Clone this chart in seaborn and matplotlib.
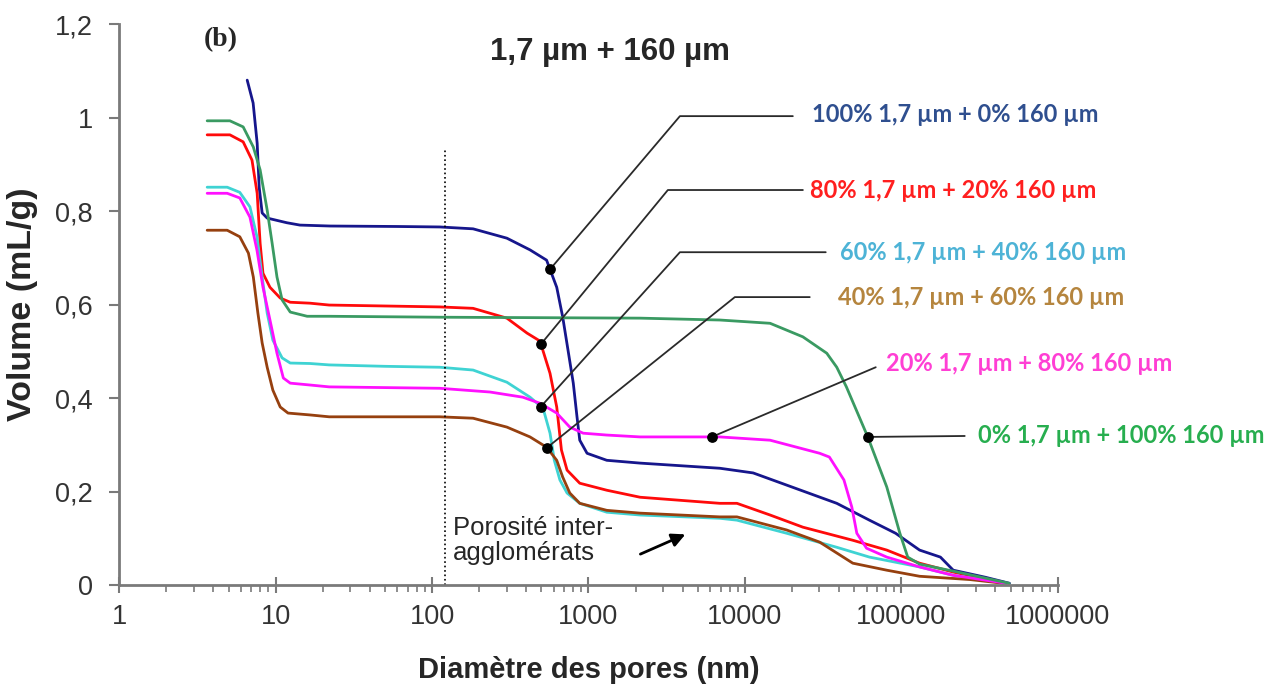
import numpy as np
import pandas as pd
import matplotlib
matplotlib.use("Agg")
import matplotlib.pyplot as plt
import seaborn as sns
from matplotlib.ticker import FixedLocator, LogLocator, NullFormatter, FuncFormatter

# ---- data (pore diameter nm -> cumulative volume mL/g) ----
mixes = ["100% 1,7 µm + 0% 160 µm", "80% 1,7 µm + 20% 160 µm",
         "60% 1,7 µm + 40% 160 µm", "40% 1,7 µm + 60% 160 µm",
         "20% 1,7 µm + 80% 160 µm", "0% 1,7 µm + 100% 160 µm"]

d_100 = [6.58, 7.18, 7.62, 7.85, 8.2, 8.83, 11.8, 14.3, 22.3, 60, 112, 183, 301, 423, 540,
         627, 685, 740, 800, 845, 880, 980, 1310, 2140, 6920, 11300, 18500, 38700, 62600,
         92000, 131000, 178000, 215000, 344000, 492000]
v_100 = [1.08, 1.031, 0.945, 0.851, 0.796, 0.785, 0.775, 0.77, 0.768, 0.767, 0.766, 0.762,
         0.742, 0.717, 0.695, 0.637, 0.573, 0.503, 0.432, 0.36, 0.31, 0.282, 0.267, 0.261,
         0.25, 0.24, 0.214, 0.175, 0.139, 0.111, 0.075, 0.06, 0.032, 0.017, 0.004]

d_80 = [3.65, 5.1, 6.2, 7.06, 7.62, 7.96, 8.3, 9.2, 10.7, 12.4, 16.6, 22, 50, 112, 183, 301,
        405, 490, 568, 627, 672, 730, 880, 1310, 2140, 6920, 8900, 14500, 23500, 49000,
        80800, 131000, 215000, 470000]
v_80 = [0.963, 0.963, 0.948, 0.909, 0.838, 0.731, 0.667, 0.637, 0.614, 0.605, 0.603, 0.599,
        0.597, 0.595, 0.592, 0.571, 0.539, 0.522, 0.453, 0.381, 0.289, 0.246, 0.218, 0.203,
        0.188, 0.175, 0.175, 0.15, 0.124, 0.096, 0.075, 0.047, 0.028, 0.004]

d_60 = [3.65, 4.9, 5.9, 6.85, 7.6, 8.2, 8.83, 9.6, 11, 12.4, 16.6, 22, 50, 112, 183, 301,
        423, 513, 568, 605, 657, 730, 880, 1310, 2140, 6920, 8900, 18500, 38700, 62600,
        131000, 215000, 470000]
v_60 = [0.851, 0.851, 0.84, 0.809, 0.745, 0.659, 0.582, 0.524, 0.486, 0.475, 0.474, 0.471,
        0.468, 0.466, 0.46, 0.434, 0.402, 0.378, 0.325, 0.267, 0.225, 0.197, 0.175, 0.156,
        0.15, 0.143, 0.139, 0.111, 0.081, 0.06, 0.039, 0.021, 0.004]

d_40 = [3.65, 4.9, 5.9, 6.7, 7.2, 7.7, 8.2, 8.83, 9.6, 10.7, 12, 16.6, 22, 112, 183, 301,
        423, 540, 627, 685, 760, 880, 1310, 2140, 6920, 8900, 18500, 30100, 49000, 80800,
        131000, 274000, 450000]
v_40 = [0.759, 0.759, 0.745, 0.71, 0.659, 0.582, 0.518, 0.466, 0.417, 0.381, 0.368, 0.364,
        0.36, 0.36, 0.357, 0.338, 0.317, 0.295, 0.267, 0.231, 0.197, 0.175, 0.16, 0.154,
        0.146, 0.146, 0.118, 0.092, 0.047, 0.032, 0.019, 0.012, 0.004]

d_20 = [3.65, 4.9, 5.9, 6.85, 7.6, 8.3, 9.2, 10.2, 11.2, 12.4, 16.6, 22, 112, 235, 380, 490,
        627, 760, 925, 1310, 2140, 6920, 14500, 30100, 34700, 43000, 48300, 52000, 60000,
        80800, 131000, 215000, 470000]
v_20 = [0.838, 0.838, 0.828, 0.787, 0.716, 0.637, 0.567, 0.496, 0.443, 0.432, 0.428, 0.424,
        0.421, 0.413, 0.402, 0.389, 0.368, 0.338, 0.325, 0.321, 0.317, 0.317, 0.31, 0.282,
        0.274, 0.225, 0.167, 0.111, 0.079, 0.06, 0.039, 0.021, 0.004]

d_0 = [3.65, 5.1, 6.2, 7.2, 7.96, 8.83, 9.5, 10.2, 11, 12.4, 15.9, 22, 112, 2140, 6920,
       14500, 23500, 33400, 38700, 44600, 61100, 80800, 98000, 110000, 131000, 215000, 490000]
v_0 = [0.993, 0.993, 0.98, 0.937, 0.888, 0.802, 0.731, 0.659, 0.61, 0.584, 0.575, 0.575,
       0.573, 0.571, 0.567, 0.56, 0.531, 0.496, 0.466, 0.424, 0.317, 0.21, 0.111, 0.06,
       0.045, 0.03, 0.004]

diams = [d_100, d_80, d_60, d_40, d_20, d_0]
vols = [v_100, v_80, v_60, v_40, v_20, v_0]

line_colors = ["#16168c", "#ff0a0a", "#3fd3d3", "#96400f", "#ff10ff", "#3a9a62"]
text_colors = ["#2f4f8f", "#ff1f1f", "#4db3d6", "#b5853e", "#ff3fd4", "#27ae4f"]

x_ticks = [1, 10, 100, 1000, 10000, 100000, 1000000]
y_ticks = [0, 0.2, 0.4, 0.6, 0.8, 1.0, 1.2]

# ---- long table for seaborn ----
frames = []
for name, d, v in zip(mixes, diams, vols):
    frames.append(pd.DataFrame({"diam": d, "vol": v, "mix": name}))
df = pd.concat(frames, ignore_index=True)

sns.set_theme(style="ticks")
plt.rcParams['font.family'] = ['Liberation Sans', 'DejaVu Sans']

fig, ax = plt.subplots(figsize=(12.82, 6.86), dpi=100)
fig.subplots_adjust(left=0.093, right=0.825, bottom=0.147, top=0.965)

sns.lineplot(data=df, x="diam", y="vol", hue="mix", palette=dict(zip(mixes, line_colors)),
             estimator=None, sort=False, linewidth=2.0, legend=False, ax=ax)

ax.set_xscale("log")
ax.set_xlim(1, 1e6)
ax.set_ylim(0, 1.2)

# axes look
grey = "#7a7a7a"
for s in ["top", "right"]:
    ax.spines[s].set_visible(False)
for s in ["left", "bottom"]:
    ax.spines[s].set_color(grey)
    ax.spines[s].set_linewidth(2)

ax.xaxis.set_major_locator(FixedLocator(x_ticks))
ax.xaxis.set_major_formatter(FuncFormatter(lambda v, p: f"{int(round(v))}"))
ax.xaxis.set_minor_locator(LogLocator(base=10, subs=np.arange(2, 10), numticks=20))
ax.xaxis.set_minor_formatter(NullFormatter())
ax.yaxis.set_major_locator(FixedLocator(y_ticks))
ax.yaxis.set_major_formatter(FuncFormatter(lambda v, p: f"{v:g}".replace(".", ",")))

ax.tick_params(axis="x", which="major", direction="inout", length=11, width=1.5,
               color=grey, labelsize=19.5, labelcolor="#333333", pad=8)
ax.tick_params(axis="x", which="minor", direction="out", length=5, width=1.2, color=grey)
ax.tick_params(axis="y", which="major", direction="out", length=7, width=1.5,
               color=grey, labelsize=19.5, labelcolor="#333333", pad=12)

ax.set_xlabel("Diamètre des pores (nm)", fontsize=21, fontweight="bold", labelpad=19)
ax.set_ylabel("Volume (mL/g)", fontsize=24.5, fontweight="bold", labelpad=12)

# dotted separator
ax.vlines(121, 0, 0.93, colors="black", linestyles=":", linewidth=1.2)

# ---- call-outs: dot on curve, leader line, coloured label ----
dot_x = [568, 497, 497, 543, 6150, 61100]
leader_pts = [
    [(3845, 1.003), (20270, 1.003)],
    [(3220, 0.845), (23500, 0.845)],
    [(3845, 0.712), (32900, 0.712)],
    [(8630, 0.616), (26000, 0.616)],
    [(68700, 0.466)],
    [(254600, 0.319)],
]
label_pos = [(26800, 1.007), (26000, 0.845), (40400, 0.712), (39300, 0.616),
             (79600, 0.475), (308000, 0.319)]

for i, name in enumerate(mixes):
    xd = dot_x[i]
    yd = np.interp(np.log10(xd), np.log10(diams[i]), vols[i])
    xs = [xd] + [p[0] for p in leader_pts[i]]
    ys = [yd] + [p[1] for p in leader_pts[i]]
    ax.plot(xs, ys, color="#2a2a2a", lw=1.3, clip_on=False, zorder=4)
    ax.scatter([xd], [yd], s=45, color="black", zorder=6, clip_on=False)
    ax.text(label_pos[i][0], label_pos[i][1], name, color=text_colors[i],
            fontsize=17, fontweight="bold", family=["Lato", "DejaVu Sans"],
            va="center", ha="left", clip_on=False)

# inter-agglomerate porosity note
ax.annotate("", xy=(4325, 0.111), xytext=(2070, 0.064),
            arrowprops=dict(arrowstyle="-|>", color="black", lw=2, mutation_scale=20))
fig.text(453 / 1282, 1 - 516 / 686, "Porosité inter-\nagglomérats", fontsize=18.5,
         va="top", ha="left", linespacing=1.05)

fig.text(610 / 1282, 1 - 52 / 686, "1,7 µm + 160 µm", fontsize=22.5, fontweight="bold",
         ha="center", va="center")
fig.text(221 / 1282, 1 - 40 / 686, "(b)", fontsize=20, fontweight="bold",
         family=["Liberation Serif", "DejaVu Serif"], ha="center", va="center")

fig.savefig("out.png", dpi=100)
